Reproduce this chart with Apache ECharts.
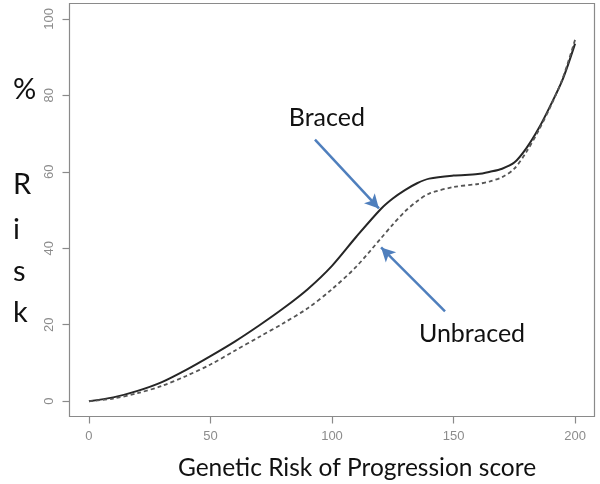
<!DOCTYPE html>
<html>
<head>
<meta charset="utf-8">
<script src="https://cdn.jsdelivr.net/npm/echarts@6/dist/echarts.min.js"></script>
<style>
html,body{margin:0;padding:0;background:#fff;}
#chart{width:600px;height:484px;}
</style>
</head>
<body>
<div id="chart"></div>
<script>
// Genetic Risk of Progression score (x) and % risk (y)
const scores   = [0,10,20,30,40,50,60,70,80,90,100,110,120,125,130,135,140,150,160,165,170,175,180,185,190,195,200];
const braced   = [0,1.0,2.7,5.0,8.2,11.8,15.6,19.8,24.3,29.3,35.4,43.0,50.2,53.0,55.2,57.0,58.2,59.0,59.4,60.0,60.8,62.4,66.2,71.3,77.5,84.3,93.5];
const unbraced = [0,0.7,2.1,4.0,6.6,9.6,13.2,16.8,20.4,24.3,29.3,35.2,42.5,46.2,49.6,52.3,54.3,56.0,56.8,57.5,58.6,60.8,65.2,70.8,77.2,84.6,94.5];
const xTicks = [0,50,100,150,200];
const yTicks = [0,20,40,60,80,100];
const xTitle = 'Genetic Risk of Progression score';
const yTitleLetters = ['%','R','i','s','k'];
const annotations = [
  {name:'Braced',   label:[97.9,74.2], from:[93.0,68.4],  to:[119.3,50.4]},
  {name:'Unbraced', label:[157.6,17.5], from:[146.5,23.5], to:[120.2,40.2]}
];

const chart = echarts.init(document.getElementById('chart'), null, {renderer:'canvas'});
const tickFont = {color:'#8c8c8c', fontSize:13, fontFamily:'Liberation Sans, Arial, sans-serif'};
const bigFont = 'Lato, "Open Sans", sans-serif';
const arrowColor = '#4f7fbd';

const letterY = [90,185,230,272,313];
const graphics = [
  {type:'text', x:357, y:468, style:{text:xTitle, font:'24.5px ' + bigFont, fill:'#111', textAlign:'center', textVerticalAlign:'middle'}}
];
yTitleLetters.forEach((ch,i)=>{
  graphics.push({type:'text', x:13, y:letterY[i], style:{text:ch, font:'29px ' + bigFont, fill:'#111', textAlign:'left', textVerticalAlign:'middle'}});
});

chart.setOption({
  animation:false,
  grid:{left:69.5, right:5.5, top:3.5, bottom:67.5, show:true, borderColor:'#8a8a8a', borderWidth:1.2, backgroundColor:'transparent'},
  xAxis:{
    type:'value', min:-8, max:208,
    splitLine:{show:false},
    axisLine:{show:false, onZero:false},
    axisTick:{show:true, length:7, lineStyle:{color:'#8a8a8a', width:1.2}, customValues:xTicks},
    axisLabel:Object.assign({margin:13, customValues:xTicks}, tickFont)
  },
  yAxis:{
    type:'value', min:-4, max:104,
    splitLine:{show:false},
    axisLine:{show:false, onZero:false},
    axisTick:{show:true, length:7, lineStyle:{color:'#8a8a8a', width:1.2}, customValues:yTicks},
    axisLabel:Object.assign({margin:14, rotate:90, customValues:yTicks}, tickFont)
  },
  series:[
    {
      type:'line', name:'Braced', data:scores.map((x,i)=>[x,braced[i]]),
      showSymbol:false, smooth:0.3,
      lineStyle:{color:'#262626', width:2},
      markLine:{
        silent:true, symbol:['none','arrow'], symbolSize:[11,14],
        lineStyle:{color:arrowColor, width:2.5, type:'solid'},
        label:{show:false},
        data:annotations.map(a=>[{coord:a.from},{coord:a.to}])
      },
      markPoint:{
        silent:true, symbol:'circle', symbolSize:1,
        itemStyle:{color:'rgba(0,0,0,0)'},
        label:{show:true, position:'inside', formatter:'{b}', fontFamily:bigFont, fontSize:25, color:'#111'},
        data:annotations.map(a=>({name:a.name, coord:a.label}))
      }
    },
    {
      type:'line', name:'Unbraced', data:scores.map((x,i)=>[x,unbraced[i]]),
      showSymbol:false, smooth:0.3,
      lineStyle:{color:'#555', width:1.8, type:[4,3]}
    }
  ],
  graphic:graphics
});
</script>
</body>
</html>
